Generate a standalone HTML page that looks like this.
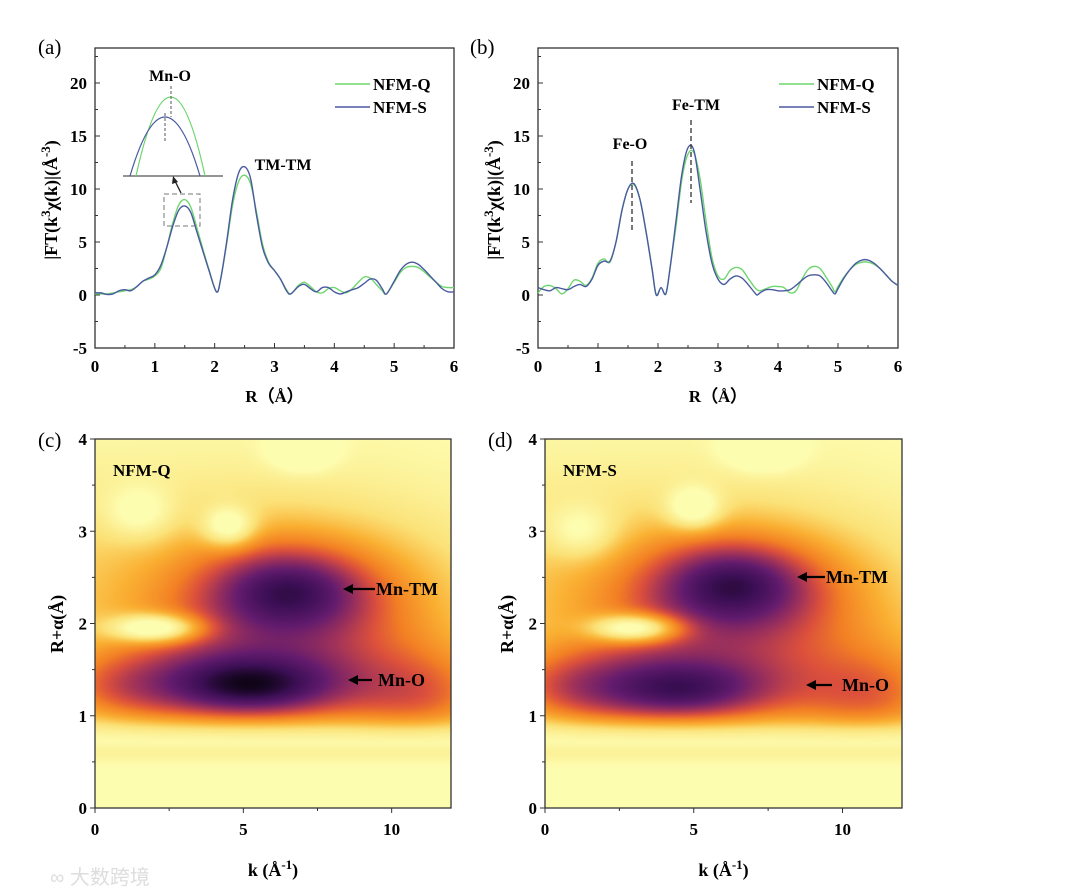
<!DOCTYPE html>
<html><head><meta charset="utf-8">
<style>
body{margin:0;background:#fff;width:1080px;height:895px;overflow:hidden;position:relative;font-family:"Liberation Serif",serif;}
svg{position:absolute;left:0;top:0}
canvas{position:absolute}
</style></head>
<body>
<canvas id="hmC" width="178" height="185" style="left:95px;top:439px;width:356px;height:369px"></canvas>
<canvas id="hmD" width="178" height="185" style="left:545px;top:439px;width:357px;height:369px"></canvas>
<svg id="s" width="1080" height="895"></svg>
<script>
// ---- data panel (a)
const xA=[0,.1,.2,.3,.4,.5,.6,.7,.8,.9,1,1.1,1.2,1.3,1.4,1.5,1.6,1.7,1.8,1.9,2.03,2.1,2.2,2.3,2.4,2.5,2.6,2.7,2.8,2.9,3,3.1,3.2,3.27,3.4,3.5,3.6,3.7,3.8,3.9,4,4.1,4.2,4.3,4.4,4.5,4.6,4.7,4.8,4.87,5,5.1,5.2,5.3,5.4,5.5,5.6,5.7,5.8,5.9,6];
const sA=[0.2,0.2,0.05,0.1,0.4,0.5,0.4,0.8,1.3,1.6,1.9,2.8,4.5,6.5,8.0,8.4,7.8,6.0,4.2,2.4,0.3,1.5,5,9,11.5,12.1,11.0,7.5,4.5,3.0,2.3,1.5,0.4,0.1,0.8,1.0,0.6,0.3,0.7,0.7,0.3,0.1,0.3,0.5,0.7,1.1,1.5,1.4,0.6,0.1,1.3,2.3,2.9,3.1,2.9,2.4,1.8,1.2,0.6,0.3,0.3];
const qA=[0.1,0.1,0.1,0.2,0.3,0.4,0.5,0.8,1.3,1.5,1.8,2.5,4.5,6.8,8.5,9.0,8.3,6.4,4.4,2.5,0.3,1.5,4.8,8.5,10.7,11.3,10.5,7.8,4.8,3.1,2.3,1.5,0.5,0.1,0.9,1.2,0.8,0.3,0.2,0.6,0.7,0.4,0.2,0.6,1.2,1.7,1.6,1.0,0.4,0.1,1.2,2.1,2.6,2.7,2.6,2.2,1.7,1.2,0.8,0.7,0.7];
// ---- data panel (b)
const xB=[0,.1,.2,.3,.4,.5,.6,.7,.8,.9,1,1.1,1.2,1.3,1.4,1.5,1.6,1.7,1.8,1.9,1.97,2.05,2.13,2.2,2.3,2.4,2.5,2.6,2.7,2.8,2.9,3,3.1,3.2,3.3,3.4,3.5,3.6,3.65,3.7,3.8,3.9,4,4.1,4.2,4.3,4.4,4.5,4.6,4.7,4.8,4.9,4.95,5,5.1,5.2,5.3,5.4,5.5,5.6,5.7,5.8,5.9,6];
const sB=[0.7,0.5,0.4,0.7,0.6,0.5,0.8,1.0,0.8,1.5,2.8,3.2,3.2,5,8,10,10.5,9,6,2.5,0,0.7,0.1,2.5,7,11.5,13.9,13.6,10,6,3,1.5,1.0,1.5,1.8,1.6,1.0,0.3,0,0.2,0.5,0.5,0.4,0.4,0.5,0.9,1.4,1.8,1.9,1.8,1.2,0.4,0.1,0.6,1.6,2.4,3.0,3.3,3.3,3.0,2.5,1.9,1.3,0.9];
const qB=[0.2,0.8,0.9,0.6,0.1,0.6,1.4,1.3,0.9,1.6,3,3.4,3.1,5,8,10,10.4,9,6,2.5,0,0.7,0.1,2.5,6.5,11,13.3,13.4,11,7,3.5,1.8,1.5,2.3,2.6,2.4,1.6,0.8,0.5,0.4,0.6,0.8,0.8,0.7,0.2,0.4,1.5,2.4,2.7,2.5,1.7,0.8,0.3,0.8,1.7,2.4,2.9,3.1,3.1,2.9,2.5,1.9,1.3,0.9];
const rTicks=[0,1,2,3,4,5,6];
const yTicks=[-5,0,5,10,15,20];
const kTicks=[0,5,10];
const hTicks=[0,1,2,3,4];
// ---- wavelet blobs (k, R, amplitude, sigma-k, sigma-R)
const cK=[5.2,6.5,6.5,1.0,11.0,2.0,4.5,7.0,1.5];
const cR=[1.35,2.33,2.0,1.3,1.2,1.95,3.05,3.9,3.2];
const cA=[0.97,0.82,0.55,0.4,0.45,-0.6,-0.4,-0.4,-0.25];
const cSK=[2.7,2.0,4.5,2.0,2.0,1.0,0.6,0.7,0.8];
const cSR=[0.3,0.35,0.8,0.3,0.4,0.1,0.15,0.15,0.2];
const dK=[4.5,6.3,6.3,1.0,11.0,3.0,5.0,7.3,1.2];
const dR=[1.3,2.4,2.0,1.3,1.2,1.95,3.25,3.9,3.0];
const dA=[0.84,0.84,0.55,0.4,0.45,-0.6,-0.4,-0.4,-0.25];
const dSK=[2.7,2.0,4.5,2.0,2.0,1.0,0.6,0.8,0.8];
const dSR=[0.3,0.35,0.8,0.3,0.4,0.1,0.15,0.15,0.2];

const NS='http://www.w3.org/2000/svg',S=document.getElementById('s');
function el(t,a,txt){const e=document.createElementNS(NS,t);for(const k in a)e.setAttribute(k,a[k]);if(txt!==undefined)e.textContent=txt;S.appendChild(e);return e;}
function path(xs,ys,fx,fy){const p=xs.map((x,i)=>[fx(x),fy(ys[i])]);let d='M'+p[0][0]+','+p[0][1];
 for(let i=0;i<p.length-1;i++){const p0=p[i-1]||p[i],p1=p[i],p2=p[i+1],p3=p[i+2]||p2;
 d+=' C'+(p1[0]+(p2[0]-p0[0])/6)+','+(p1[1]+(p2[1]-p0[1])/6)+' '+(p2[0]-(p3[0]-p1[0])/6)+','+(p2[1]-(p3[1]-p1[1])/6)+' '+p2[0]+','+p2[1];}return d;}
const TF='font-family:"Liberation Serif",serif;font-weight:bold;';
function linePanel(L,R,name,xs,q,s){
 const T=48,B=348,fx=v=>L+(R-L)*v/6,fy=v=>295-(v)*10.6;
 el('rect',{x:L,y:T,width:R-L,height:B-T,fill:'none',stroke:'#333','stroke-width':1.3,});
 rTicks.forEach(t=>{const x=fx(t);let e=el('line',{x1:x,x2:x,y1:B,y2:B-5,stroke:'#333'});
  e=el('text',{x:x,y:B+24,'text-anchor':'middle',style:TF+'font-size:17px'},t);
  if(t<6){el('line',{x1:fx(t+.5),x2:fx(t+.5),y1:B,y2:B-3,stroke:'#333'});}});
 yTicks.forEach(t=>{const y=fy(t);let e=el('line',{x1:L,x2:L+5,y1:y,y2:y,stroke:'#333'});
  e=el('text',{x:L-8,y:y+6,'text-anchor':'end',style:TF+'font-size:17px'},t);
  el('line',{x1:L,x2:L+3,y1:fy(t+2.5),y2:fy(t+2.5),stroke:'#333'});});
 let e=el('path',{d:path(xs,q,fx,fy),fill:'none',stroke:'#6fd66f','stroke-width':1.4});
 e=el('path',{d:path(xs,s,fx,fy),fill:'none',stroke:'#4a5aa0','stroke-width':1.4});
 const lx=R-119;
 el('line',{x1:lx,x2:lx+35,y1:84,y2:84,stroke:'#6fd66f','stroke-width':1.5,});
 el('text',{x:lx+38,y:90,style:TF+'font-size:17px',},'NFM-Q');
 el('line',{x1:lx,x2:lx+35,y1:107,y2:107,stroke:'#4a5aa0','stroke-width':1.5,});
 el('text',{x:lx+38,y:113,style:TF+'font-size:17px',},'NFM-S');
 el('text',{x:(L+R)/2,y:402,'text-anchor':'middle',style:TF+'font-size:17px',},'R（Å）');
 const yt=el('text',{x:0,y:0,'text-anchor':'middle',transform:'translate('+(L-38)+',200) rotate(-90)',style:TF+'font-size:18px',});
 yt.innerHTML='|FT(k<tspan dy="-7" font-size="13">3</tspan><tspan dy="7">χ(k)|(Å</tspan><tspan dy="-7" font-size="13">-3</tspan><tspan dy="7">)</tspan>';
}
el('text',{x:38,y:54,style:'font-family:"Liberation Serif",serif;font-size:21px',},'(a)');
el('text',{x:470,y:54,style:'font-family:"Liberation Serif",serif;font-size:21px',},'(b)');
linePanel(95,454,'panel-a',xA,qA,sA);
linePanel(538,898,'panel-b',xB,qB,sB);
// annotations (a)
el('text',{x:283,y:170,'text-anchor':'middle',style:TF+'font-size:16px',},'TM-TM');
el('text',{x:170,y:81,'text-anchor':'middle',style:TF+'font-size:16px',},'Mn-O');
el('line',{x1:123,x2:223,y1:176,y2:176,stroke:'#555','stroke-width':1.2,});
el('path',{d:'M136,176 Q171,18 205,176',fill:'none',stroke:'#6fd66f','stroke-width':1.2,});
el('path',{d:'M130,176 Q165,58 200,176',fill:'none',stroke:'#4a5aa0','stroke-width':1.2,});
el('line',{x1:171,x2:171,y1:86,y2:117,stroke:'#555','stroke-dasharray':'3,2',});
el('line',{x1:165,x2:165,y1:113,y2:142,stroke:'#555','stroke-dasharray':'3,2',});
el('rect',{x:164,y:194,width:36,height:32,fill:'none',stroke:'#777','stroke-dasharray':'5,3',});
el('line',{x1:181,x2:175,y1:193,y2:181,stroke:'#222','stroke-width':1.3,});
el('path',{d:'M173,176 L172,184 L178,182 Z',fill:'#222',});
// annotations (b)
el('text',{x:630,y:149,'text-anchor':'middle',style:TF+'font-size:16px',},'Fe-O');
el('text',{x:696,y:110,'text-anchor':'middle',style:TF+'font-size:16px',},'Fe-TM');
el('line',{x1:632,x2:632,y1:161,y2:230,stroke:'#333','stroke-width':1.3,'stroke-dasharray':'5,3',});
el('line',{x1:691,x2:691,y1:120,y2:203,stroke:'#333','stroke-width':1.3,'stroke-dasharray':'5,3',});

// ---- heatmaps
const stops=[[0,[253,253,176]],[0.2,[251,226,120]],[0.35,[250,176,50]],[0.5,[243,128,36]],[0.6,[220,80,60]],[0.7,[160,50,90]],[0.8,[100,28,110]],[0.9,[60,15,85]],[1,[5,2,10]]];
function cmap(v){v=Math.max(0,Math.min(1,v));for(let i=1;i<stops.length;i++){if(v<=stops[i][0]){const a=stops[i-1],b=stops[i],t=(v-a[0])/(b[0]-a[0]);return a[1].map((c,j)=>c+(b[1][j]-c)*t);}}return stops[stops.length-1][1];}
function heat(id,K,R,A,SK,SR){const c=document.getElementById(id),g=c.getContext('2d'),W=c.width,H=c.height,im=g.createImageData(W,H);
 for(let j=0;j<H;j++){const r=4*(1-(j+.5)/H);for(let i=0;i<W;i++){const k=12*(i+.5)/W;let prod=1-0.15*Math.exp(-Math.pow((r-2.6)/1.2,2))*(1-k/16),neg=0;
  for(let n=0;n<K.length;n++){const gv=A[n]*Math.exp(-0.5*(Math.pow((k-K[n])/SK[n],2)+Math.pow((r-R[n])/SR[n],2)));
   if(A[n]>0)prod*=(1-Math.min(0.99,gv));else neg+=gv;}
  let v=(1-prod)+neg;
  v*=1/(1+Math.exp(-(r-0.85)/0.07));if(r<0.85)v=Math.max(v,0.08*Math.exp(-Math.pow((r-0.6)/0.1,2)));
  const col=cmap(v),p=4*(j*W+i);im.data[p]=col[0];im.data[p+1]=col[1];im.data[p+2]=col[2];im.data[p+3]=255;}}
 g.putImageData(im,0,0);}
heat('hmC',cK,cR,cA,cSK,cSR);heat('hmD',dK,dR,dA,dSK,dSR);
function heatAxes(L,R,name,lab,sample,ann){const T=439,B=808,fx=v=>L+(R-L)*v/12,fy=v=>B-(B-T)*v/4;
 el('rect',{x:L,y:T,width:R-L,height:B-T,fill:'none',stroke:'#333','stroke-width':1.3,});
 kTicks.forEach(t=>{let e=el('line',{x1:fx(t),x2:fx(t),y1:B,y2:B+5,stroke:'#333'});
  e=el('text',{x:fx(t),y:B+27,'text-anchor':'middle',style:TF+'font-size:17px'},t);
  if(t+2.5<12)el('line',{x1:fx(t+2.5),x2:fx(t+2.5),y1:B,y2:B+3,stroke:'#333'});});
 hTicks.forEach(t=>{let e=el('line',{x1:L,x2:L-5,y1:fy(t),y2:fy(t),stroke:'#333'});
  e=el('text',{x:L-8,y:fy(t)+6,'text-anchor':'end',style:TF+'font-size:17px'},t);
  if(t<4)el('line',{x1:L,x2:L-3,y1:fy(t+.5),y2:fy(t+.5),stroke:'#333'});});
 el('text',{x:L-57,y:447,style:'font-family:"Liberation Serif",serif;font-size:21px',},'('+lab+')');
 el('text',{x:L+18,y:476,style:TF+'font-size:17px',},sample);
 const xt=el('text',{x:(L+R)/2,y:876,'text-anchor':'middle',style:TF+'font-size:18px',});
 xt.innerHTML='k (Å<tspan dy="-7" font-size="13">-1</tspan><tspan dy="7">)</tspan>';
 el('text',{x:0,y:0,'text-anchor':'middle',transform:'translate('+(L-32)+',624) rotate(-90)',style:TF+'font-size:18px',},'R+α(Å)');
 ann.forEach(a=>{el('line',{x1:a[1],x2:a[0]+8,y1:a[2],y2:a[2],stroke:'#000','stroke-width':2.2,});
  el('path',{d:'M'+a[0]+','+a[2]+' l10,-5 l0,10 z',fill:'#000',});
  el('text',{x:a[3],y:a[2]+6,style:TF+'font-size:18px',},a[4]);});
}
heatAxes(95,451,'heatmap-c','c','NFM-Q',[[343,375,589,376,'Mn-TM'],[348,372,680,378,'Mn-O']]);
heatAxes(545,902,'heatmap-d','d','NFM-S',[[797,825,577,826,'Mn-TM'],[806,832,685,842,'Mn-O']]);
el('text',{x:50,y:884,style:'font-family:"Liberation Sans","Noto Sans CJK SC",sans-serif;font-size:20px;fill:#ddd',},'∞ 大数跨境');
</script>
</body></html>
